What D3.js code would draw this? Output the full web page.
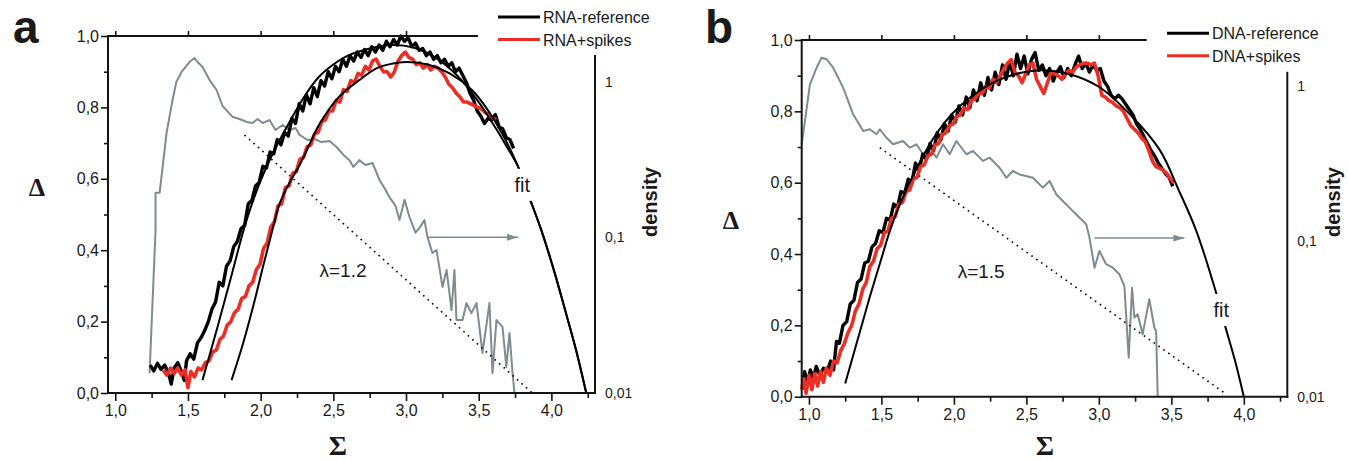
<!doctype html>
<html lang="en">
<head>
<meta charset="utf-8"/>
<title>Sigma - Delta spectra</title>
<script src="https://d3js.org/d3.v7.min.js"></script>
<style>
    html, body { margin: 0; padding: 0; background: #fff; }
    svg text { font-family: "Liberation Sans", Arial, sans-serif; fill: #1a1a1a; }
</style>
</head>
<body>
<svg id="chart" width="1348" height="460"></svg>
<script>
    // ---- values ----
    const sigmaTicks = [1.0, 1.5, 2.0, 2.5, 3.0, 3.5, 4.0];
    const sigmaMinor = [1.25, 1.75, 2.25, 2.75, 3.25, 3.75, 4.25];
    const deltaTicks = [0, 0.2, 0.4, 0.6, 0.8, 1.0];
    const deltaMinor = [0.1, 0.3, 0.5, 0.7, 0.9];
    const densityTicks = [0.01, 0.1, 1];

    // panel a : RNA
    const rnaRef = [[1.24,.078],[1.265,.062],[1.29,.083],[1.315,.066],[1.34,.078],[1.365,.058],[1.385,.025],[1.405,.07],[1.43,.085],[1.455,.06],[1.475,.035],[1.49,.09],[1.515,.11],[1.54,.095],[1.565,.14],[1.59,.155],[1.615,.175],[1.64,.2],[1.665,.235],[1.69,.255],[1.715,.31],[1.74,.3],[1.765,.355],[1.79,.37],[1.815,.41],[1.84,.425],[1.865,.46],[1.89,.47],[1.915,.53],[1.94,.54],[1.965,.58],[1.99,.59],[2.015,.635],[2.04,.63],[2.065,.675],[2.09,.67],[2.115,.71],[2.14,.695],[2.165,.73],[2.19,.72],[2.215,.77],[2.24,.755],[2.265,.81],[2.29,.79],[2.315,.835],[2.34,.81],[2.365,.855],[2.39,.83],[2.415,.875],[2.44,.86],[2.465,.9],[2.49,.88],[2.515,.915],[2.54,.9],[2.565,.935],[2.59,.915],[2.615,.945],[2.64,.93],[2.665,.955],[2.69,.94],[2.715,.962],[2.74,.945],[2.765,.97],[2.79,.955],[2.815,.975],[2.84,.96],[2.865,.985],[2.89,.97],[2.915,.99],[2.94,.975],[2.965,1.0],[2.99,.985],[3.015,.995],[3.04,.97],[3.065,.98],[3.09,.96],[3.115,.965],[3.14,.945],[3.165,.955],[3.19,.935],[3.215,.945],[3.24,.925],[3.265,.935],[3.29,.915],[3.315,.925],[3.34,.9],[3.365,.91],[3.39,.89],[3.415,.87],[3.44,.84],[3.465,.82],[3.49,.79],[3.515,.775],[3.54,.755],[3.565,.77],[3.59,.765],[3.615,.78],[3.64,.745],[3.665,.74],[3.69,.715],[3.715,.71],[3.74,.685]];
    const rnaSpikes = [[1.33,.064],[1.355,.05],[1.38,.07],[1.405,.055],[1.43,.07],[1.455,.05],[1.48,.065],[1.5,.015],[1.52,.06],[1.545,.045],[1.57,.07],[1.595,.065],[1.62,.085],[1.645,.09],[1.67,.115],[1.695,.12],[1.72,.15],[1.745,.16],[1.77,.19],[1.795,.2],[1.82,.225],[1.845,.235],[1.87,.265],[1.895,.27],[1.92,.3],[1.945,.31],[1.97,.345],[1.995,.36],[2.02,.405],[2.045,.42],[2.07,.465],[2.095,.48],[2.12,.525],[2.145,.53],[2.17,.575],[2.195,.58],[2.22,.615],[2.245,.62],[2.27,.655],[2.295,.66],[2.32,.69],[2.345,.695],[2.37,.725],[2.395,.73],[2.42,.76],[2.445,.765],[2.47,.79],[2.495,.79],[2.52,.82],[2.545,.815],[2.57,.85],[2.595,.845],[2.62,.875],[2.645,.87],[2.67,.895],[2.695,.89],[2.72,.915],[2.745,.905],[2.77,.93],[2.795,.935],[2.82,.915],[2.845,.9],[2.87,.9],[2.895,.885],[2.92,.9],[2.945,.93],[2.97,.945],[2.995,.955],[3.02,.94],[3.045,.935],[3.07,.92],[3.095,.925],[3.12,.91],[3.145,.92],[3.17,.905],[3.195,.915],[3.22,.91],[3.245,.9],[3.27,.885],[3.295,.865],[3.32,.855],[3.345,.84],[3.37,.83],[3.395,.815],[3.42,.815],[3.445,.81],[3.47,.805],[3.495,.8],[3.52,.795],[3.545,.785],[3.57,.78],[3.595,.77],[3.62,.765]];
    const rnaFitRef = [[1.60,.036],[1.70,.18],[1.80,.33],[1.90,.48],[2.00,.595],[2.10,.685],[2.20,.76],[2.30,.83],[2.40,.885],[2.50,.92],[2.60,.945],[2.75,.965],[2.90,.975],[3.05,.968],[3.20,.94],[3.35,.89],[3.50,.815],[3.62,.74],[3.70,.685],[3.77,.635],[3.85,.546],[3.93,.457],[4.02,.34],[4.10,.224],[4.17,.12],[4.24,0]];
    const rnaFitSpikes = [[1.80,.036],[1.88,.14],[1.95,.245],[2.02,.36],[2.08,.455],[2.13,.53],[2.20,.59],[2.27,.64],[2.34,.70],[2.40,.75],[2.54,.83],[2.68,.877],[2.80,.91],[2.90,.922],[3.00,.927],[3.15,.92],[3.30,.895],[3.45,.85],[3.55,.80],[3.67,.72],[3.77,.635],[3.85,.546],[3.93,.457],[4.02,.34],[4.10,.224],[4.17,.12],[4.24,0]];
    const rnaDensity = [[1.236,.0134],[1.277,.111],[1.277,.193],[1.305,.193],[1.353,.468],[1.394,.762],[1.42,.993],[1.456,1.153],[1.483,1.24],[1.51,1.336],[1.545,1.418],[1.566,1.336],[1.60,1.24],[1.649,1.023],[1.697,.883],[1.738,.697],[1.807,.593],[1.855,.575],[1.903,.551],[1.944,.542],[1.979,.575],[2.013,.542],[2.061,.566],[2.102,.489],[2.151,.526],[2.199,.489],[2.24,.504],[2.268,.454],[2.322,.422],[2.37,.428],[2.419,.409],[2.474,.415],[2.522,.38],[2.57,.338],[2.611,.313],[2.638,.283],[2.68,.313],[2.72,.291],[2.77,.30],[2.818,.233],[2.86,.201],[2.886,.181],[2.928,.159],[2.955,.129],[2.99,.174],[3.024,.135],[3.065,.107],[3.093,.115],[3.127,.129],[3.148,.10],[3.182,.0792],[3.21,.0828],[3.251,.048],[3.279,.0617],[3.313,.0341],[3.333,.0617],[3.347,.0294],[3.389,.0294],[3.416,.0378],[3.45,.0326],[3.485,.0378],[3.526,.0181],[3.574,.0378],[3.595,.0134],[3.622,.0294],[3.664,.0265],[3.69,.0147],[3.712,.0243],[3.733,.0134],[3.746,.01]];
    const rnaSlope = [[1.889,.454],[3.863,.0101]];
    const rnaArrow = [[3.15,.1],[3.77,.1]];

    // panel b : DNA
    const dnaRef = [[0.955,.03],[0.97,.07],[0.99,.04],[1.01,.075],[1.03,.05],[1.05,.085],[1.075,.06],[1.1,.08],[1.125,.07],[1.15,.1],[1.17,.075],[1.19,.155],[1.21,.15],[1.235,.2],[1.26,.21],[1.285,.26],[1.31,.27],[1.335,.32],[1.36,.33],[1.385,.375],[1.41,.38],[1.435,.42],[1.46,.43],[1.485,.465],[1.51,.46],[1.535,.5],[1.56,.495],[1.585,.54],[1.61,.53],[1.635,.575],[1.66,.57],[1.685,.61],[1.71,.6],[1.735,.655],[1.76,.635],[1.785,.68],[1.81,.665],[1.835,.71],[1.86,.69],[1.885,.74],[1.91,.72],[1.935,.765],[1.96,.745],[1.985,.79],[2.01,.77],[2.035,.815],[2.06,.79],[2.085,.84],[2.11,.81],[2.135,.86],[2.16,.83],[2.185,.88],[2.21,.845],[2.235,.895],[2.26,.86],[2.285,.91],[2.31,.875],[2.335,.93],[2.36,.89],[2.385,.94],[2.41,.9],[2.435,.96],[2.46,.92],[2.485,.955],[2.51,.905],[2.535,.945],[2.56,.965],[2.585,.915],[2.61,.93],[2.635,.9],[2.66,.92],[2.685,.885],[2.71,.91],[2.735,.925],[2.76,.895],[2.785,.92],[2.81,.9],[2.835,.93],[2.86,.955],[2.885,.92],[2.91,.935],[2.935,.91],[2.96,.93],[2.985,.915],[3.01,.92],[3.035,.885],[3.06,.87],[3.085,.845],[3.11,.835],[3.135,.845],[3.16,.835],[3.185,.82],[3.21,.805],[3.235,.79],[3.26,.765],[3.285,.75],[3.31,.73],[3.335,.71],[3.36,.69],[3.385,.675],[3.41,.655],[3.435,.64],[3.46,.625],[3.485,.615],[3.51,.59]];
    const dnaSpikes = [[0.95,.02],[0.965,.05],[0.98,.01],[1.0,.06],[1.02,.02],[1.04,.065],[1.06,.03],[1.08,.07],[1.1,.04],[1.12,.08],[1.145,.06],[1.17,.1],[1.195,.095],[1.22,.13],[1.245,.15],[1.27,.18],[1.295,.2],[1.32,.24],[1.345,.26],[1.37,.3],[1.395,.32],[1.42,.365],[1.445,.38],[1.47,.415],[1.495,.425],[1.52,.46],[1.545,.465],[1.57,.5],[1.595,.505],[1.62,.54],[1.645,.545],[1.67,.575],[1.695,.58],[1.72,.61],[1.745,.615],[1.77,.645],[1.795,.65],[1.82,.675],[1.845,.68],[1.87,.705],[1.895,.71],[1.92,.735],[1.945,.74],[1.97,.76],[1.995,.765],[2.02,.785],[2.045,.79],[2.07,.81],[2.095,.805],[2.12,.83],[2.145,.835],[2.17,.85],[2.195,.85],[2.22,.87],[2.245,.865],[2.27,.89],[2.295,.88],[2.32,.9],[2.345,.92],[2.37,.935],[2.395,.945],[2.42,.91],[2.445,.9],[2.47,.88],[2.495,.905],[2.52,.93],[2.545,.935],[2.57,.89],[2.595,.87],[2.62,.85],[2.645,.88],[2.67,.91],[2.695,.905],[2.72,.9],[2.745,.89],[2.77,.905],[2.795,.915],[2.82,.91],[2.845,.925],[2.87,.93],[2.895,.935],[2.92,.935],[2.945,.93],[2.97,.935],[2.995,.9],[3.02,.845],[3.045,.84],[3.07,.83],[3.095,.825],[3.12,.815],[3.145,.81],[3.17,.8],[3.195,.78],[3.22,.76],[3.245,.75],[3.27,.74],[3.295,.725],[3.32,.715],[3.345,.69],[3.37,.66],[3.395,.645],[3.42,.64],[3.445,.635],[3.47,.625],[3.495,.61],[3.52,.598]];
    const dnaFit = [[1.25,.037],[1.35,.18],[1.42,.28],[1.49,.374],[1.56,.467],[1.63,.542],[1.76,.654],[1.88,.738],[1.99,.794],[2.11,.838],[2.31,.888],[2.55,.914],[2.77,.907],[3.00,.869],[3.23,.785],[3.42,.692],[3.55,.58],[3.67,.467],[3.81,.29],[3.87,.20],[3.94,.10],[4.0,0]];
    const dnaDensity = [[0.95,.422],[1.007,1.027],[1.053,1.313],[1.087,1.524],[1.122,1.489],[1.167,1.313],[1.236,.977],[1.305,.658],[1.374,.514],[1.42,.527],[1.466,.49],[1.489,.527],[1.535,.465],[1.581,.422],[1.649,.443],[1.696,.401],[1.742,.422],[1.787,.364],[1.833,.401],[1.88,.346],[1.925,.422],[1.971,.364],[2.017,.443],[2.086,.364],[2.132,.382],[2.2,.33],[2.247,.346],[2.315,.298],[2.362,.257],[2.407,.284],[2.453,.27],[2.545,.257],[2.614,.222],[2.66,.245],[2.706,.201],[2.751,.182],[2.797,.165],[2.844,.149],[2.913,.129],[2.935,.106],[2.97,.0677],[3.004,.0867],[3.05,.0713],[3.096,.0677],[3.142,.0614],[3.176,.0516],[3.206,.0178],[3.229,.0503],[3.245,.0323],[3.268,.034],[3.302,.0252],[3.348,.0424],[3.383,.0278],[3.395,.0265],[3.406,.01]];
    const dnaSlope = [[1.489,.401],[3.877,.0104]];
    const dnaArrow = [[2.97,.105],[3.59,.105]];

    const BLACK = "#000", RED = "#ee2e24", GRAY = "#7f8b8f", AXIS = "#141414";

    const svg = d3.select("#chart");

    svg.append("defs").append("marker")
        .attr("id", "arrowhead")
        .attr("viewBox", "0 0 11 8")
        .attr("refX", 11).attr("refY", 4)
        .attr("markerWidth", 11).attr("markerHeight", 8)
        .attr("markerUnits", "userSpaceOnUse")
        .attr("orient", "auto")
        .append("path")
        .attr("d", "M0,0.6 L11,4 L0,7.4 Z")
        .attr("fill", GRAY);

    const comma = d => String(d).replace(".", ",");

    const panels = [
        {
            letter: "a", letterX: 13,
            left: 108, right: 595, top: 36, bottom: 393,
            densTop: 81.6, rightAxisTop: 55, topAxisEnd: 478,
            ref: rnaRef, spikes: rnaSpikes, fits: [rnaFitRef, rnaFitSpikes],
            density: rnaDensity, slope: rnaSlope, arrow: rnaArrow,
            legend: ["RNA-reference", "RNA+spikes"], legendX: 498, legendY: 17,
            fitLabel: [3.80, 0.583], lambda: "λ=1.2", lambdaAt: [2.405, 0.325],
            deltaLabel: [37, 196], sigmaLabel: [338, 455], densityX: 657
        },
        {
            letter: "b", letterX: 705,
            left: 801.7, right: 1287.3, top: 40, bottom: 396.7,
            densTop: 86.1, rightAxisTop: 71.7, topAxisEnd: 1146.7,
            ref: dnaRef, spikes: dnaSpikes, fits: [dnaFit],
            density: dnaDensity, slope: dnaSlope, arrow: dnaArrow,
            legend: ["DNA-reference", "DNA+spikes"], legendX: 1167, legendY: 33.3,
            fitLabel: [3.845, 0.243], lambda: "λ=1.5", lambdaAt: [2.026, 0.3325],
            deltaLabel: [731, 229], sigmaLabel: [1045, 455], densityX: 1340
        }
    ];

    panels.forEach(drawPanel);

    function drawPanel(p) {
        const g = svg.append("g");

        let x = d3.scaleLinear().domain([0.95, 4.3]).range([p.left, p.right]);
        let y = d3.scaleLinear().domain([0, 1]).range([p.bottom, p.top]);
        let yd = d3.scaleLog().domain([0.01, 1]).range([p.bottom, p.densTop]);

        // density curve (right, log axis)
        g.append("path")
            .datum(p.density)
            .attr("d", d3.line().x(d => x(d[0])).y(d => yd(d[1])))
            .attr("fill", "none")
            .attr("stroke", GRAY)
            .attr("stroke-width", 2)
            .attr("stroke-linejoin", "round");

        // power-law guide
        g.append("path")
            .datum(p.slope)
            .attr("d", d3.line().x(d => x(d[0])).y(d => yd(d[1])))
            .attr("stroke", BLACK)
            .attr("stroke-width", 1.6)
            .attr("stroke-dasharray", "1.6,4.4");

        g.append("path")
            .datum(p.arrow)
            .attr("d", d3.line().x(d => x(d[0])).y(d => yd(d[1])))
            .attr("stroke", GRAY)
            .attr("stroke-width", 1.5)
            .attr("marker-end", "url(#arrowhead)");

        // data
        const dline = d3.line().x(d => x(d[0])).y(d => y(d[1]));
        g.append("path").datum(p.ref).attr("d", dline)
            .attr("fill", "none").attr("stroke", BLACK)
            .attr("stroke-width", 3.4).attr("stroke-linejoin", "round");
        g.append("path").datum(p.spikes).attr("d", dline)
            .attr("fill", "none").attr("stroke", RED)
            .attr("stroke-width", 3.6).attr("stroke-linejoin", "round");

        // fits
        const fline = d3.line().x(d => x(d[0])).y(d => y(d[1])).curve(d3.curveCatmullRom);
        g.selectAll(".fit").data(p.fits).enter().append("path")
            .attr("class", "fit")
            .attr("d", fline)
            .attr("fill", "none")
            .attr("stroke", BLACK)
            .attr("stroke-width", 2);

        // "fit" label with a break in the curve
        const fx = x(p.fitLabel[0]), fy = y(p.fitLabel[1]);
        g.append("rect")
            .attr("x", fx - 13).attr("y", fy - 16)
            .attr("width", 26).attr("height", 32)
            .attr("fill", "#fff");
        g.append("text")
            .attr("x", fx).attr("y", fy + 7)
            .attr("text-anchor", "middle")
            .style("font-size", "20px")
            .text("fit");

        g.append("text")
            .attr("x", x(p.lambdaAt[0])).attr("y", y(p.lambdaAt[1]))
            .style("font-size", "19px")
            .text(p.lambda);

        // axes
        const fmt1 = d => d3.format(".1f")(d).replace(".", ",");

        g.append("g").attr("transform", `translate(${p.left},0)`)
            .call(d3.axisLeft(y).tickValues(deltaTicks).tickFormat(fmt1).tickSize(7).tickPadding(2).tickSizeOuter(0));
        g.append("g").attr("transform", `translate(${p.left},0)`)
            .call(d3.axisLeft(y).tickValues(deltaMinor).tickFormat("").tickSize(4).tickSizeOuter(0));

        g.append("g").attr("transform", `translate(0,${p.bottom})`)
            .call(d3.axisBottom(x).tickValues(sigmaTicks).tickFormat(fmt1).tickSize(8).tickPadding(4).tickSizeOuter(0));
        g.append("g").attr("transform", `translate(0,${p.bottom})`)
            .call(d3.axisBottom(x).tickValues(sigmaMinor).tickFormat("").tickSize(5).tickSizeOuter(0));

        g.append("g").attr("transform", `translate(0,${p.top})`)
            .call(d3.axisTop(x).tickValues(sigmaTicks.filter(s => x(s) < p.topAxisEnd - 3)).tickFormat("").tickSize(5).tickSizeOuter(0));

        g.selectAll(".domain").remove();
        g.selectAll(".tick line").attr("stroke", AXIS).attr("stroke-width", 1.6);
        g.selectAll(".tick text")
            .attr("fill", "#1a1a1a")
            .style("font-family", "'Liberation Sans', Arial, sans-serif")
            .style("font-size", "16px");

        const frame = g.append("g").attr("stroke", AXIS).attr("stroke-width", 2).attr("fill", "none");
        frame.append("line").attr("x1", p.left).attr("x2", p.left).attr("y1", p.top).attr("y2", p.bottom + 1);
        frame.append("line").attr("x1", p.left - 1).attr("x2", p.right + 1).attr("y1", p.bottom).attr("y2", p.bottom);
        frame.append("line").attr("x1", p.left - 1).attr("x2", p.topAxisEnd).attr("y1", p.top).attr("y2", p.top);
        frame.append("line").attr("x1", p.right).attr("x2", p.right).attr("y1", p.rightAxisTop).attr("y2", p.bottom + 1);

        // density axis labels
        g.selectAll(".dlab").data(densityTicks).enter().append("text")
            .attr("class", "dlab")
            .attr("x", p.right + 10)
            .attr("y", d => yd(d))
            .attr("dy", "0.35em")
            .style("font-size", "14px")
            .text(comma);

        // axis titles
        g.append("text")
            .attr("x", p.deltaLabel[0]).attr("y", p.deltaLabel[1])
            .attr("text-anchor", "middle")
            .style("font-family", "'Liberation Serif', 'DejaVu Serif', serif")
            .style("font-weight", "bold")
            .style("font-size", "26px")
            .text("Δ");
        g.append("text")
            .attr("x", p.sigmaLabel[0]).attr("y", p.sigmaLabel[1])
            .attr("text-anchor", "middle")
            .style("font-family", "'Liberation Serif', 'DejaVu Serif', serif")
            .style("font-weight", "bold")
            .style("font-size", "28px")
            .text("Σ");
        g.append("text")
            .attr("transform", `translate(${p.densityX},167) rotate(-90)`)
            .attr("text-anchor", "end")
            .style("font-weight", "bold")
            .style("font-size", "20px")
            .text("density");

        g.append("text")
            .attr("x", p.letterX).attr("y", 43)
            .style("font-weight", "bold")
            .style("font-size", "46px")
            .text(p.letter);

        // legend
        const lg = g.append("g");
        [BLACK, RED].forEach((c, i) => {
            const ly = p.legendY + i * 22.5;
            lg.append("line")
                .attr("x1", p.legendX).attr("x2", p.legendX + 42)
                .attr("y1", ly).attr("y2", ly)
                .attr("stroke", c).attr("stroke-width", 3);
            lg.append("text")
                .attr("x", p.legendX + 45).attr("y", ly + 6)
                .style("font-size", "16px")
                .text(p.legend[i]);
        });
    }
</script>
</body>
</html>
